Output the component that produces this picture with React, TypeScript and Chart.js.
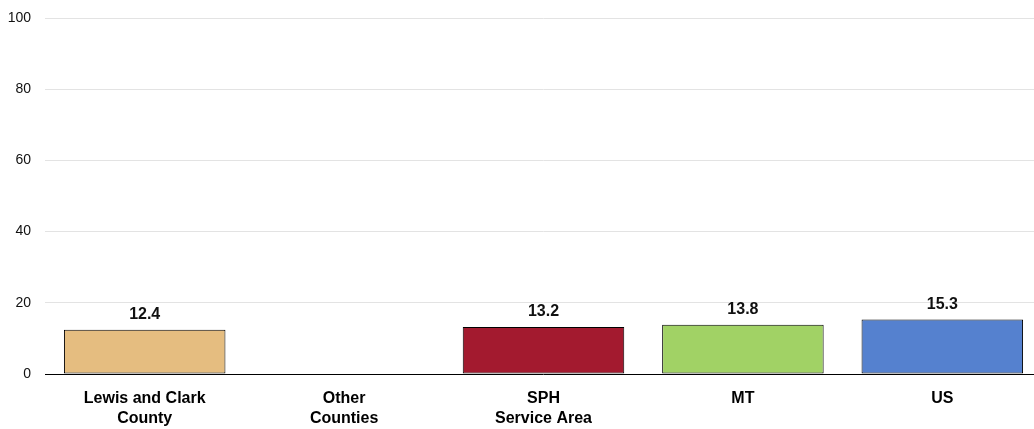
import React, { useEffect, useRef } from "react";
import { Chart, registerables } from "chart.js";

Chart.register(...registerables);

const categories: string[][] = [
  ["Lewis and Clark", "County"],
  ["Other", "Counties"],
  ["SPH", "Service Area"],
  ["MT"],
  ["US"],
];
const values: (number | null)[] = [12.4, null, 13.2, 13.8, 15.3];
const fullColors: string[] = ["#E5BD80", "#FFFFFF", "#A31A2F", "#A1D265", "#5581CF"];
const yTicks: number[] = [0, 20, 40, 60, 80, 100];

const FONT = "'Liberation Sans', Arial, sans-serif";

const valueLabelPlugin = {
  id: "valueLabels",
  afterDatasetsDraw(chart: any) {
    const ctx = chart.ctx;
    const meta = chart.getDatasetMeta(0);
    ctx.save();
    ctx.font = `bold 16px ${FONT}`;
    ctx.fillStyle = "#111";
    ctx.textAlign = "center";
    ctx.textBaseline = "bottom";
    meta.data.forEach((el: any, i: number) => {
      const v = values[i];
      if (v === null || v === undefined) return;
      ctx.fillText(v.toFixed(1), el.x, el.y - 7);
    });
    ctx.restore();
  },
};

export default function App() {
  const ref = useRef<HTMLCanvasElement | null>(null);
  useEffect(() => {
    if (!ref.current) return;
    const chart = new Chart(ref.current, {
      type: "bar",
      data: {
        labels: categories,
        datasets: [
          {
            data: values,
            backgroundColor: fullColors,
            borderColor: "#000",
            borderWidth: 1,
            borderSkipped: false,
            categoryPercentage: 0.81,
            barPercentage: 1,
          },
        ],
      },
      options: {
        animation: false,
        responsive: false,
        maintainAspectRatio: false,
        layout: { padding: { top: 10, right: 0, left: 0, bottom: 0 } },
        plugins: {
          legend: { display: false },
          tooltip: { enabled: false },
        },
        scales: {
          x: {
            afterFit: (s: any) => {
              s.paddingLeft = 0;
              s.paddingRight = 0;
            },
            grid: { display: false, drawTicks: false },
            border: { display: false },
            ticks: {
              color: "#000",
              padding: 15,
              font: { family: FONT, size: 16, weight: "bold", lineHeight: 1.25 },
              maxRotation: 0,
              autoSkip: false,
            },
          },
          y: {
            min: 0,
            max: 100,
            afterBuildTicks: (axis: any) => {
              axis.ticks = yTicks.map((v) => ({ value: v }));
            },
            afterFit: (s: any) => {
              s.width = 37;
              s.paddingTop = 10;
              s.paddingBottom = 0;
            },
            grid: {
              drawTicks: false,
              color: (c: any) => (c.tick && c.tick.value === 0 ? "#000" : "#e3e3e3"),
              lineWidth: 1,
            },
            border: { display: false },
            ticks: {
              color: "#111",
              padding: 14,
              font: { family: FONT, size: 14 },
            },
          },
        },
      },
      plugins: [valueLabelPlugin],
    });
    return () => chart.destroy();
  }, []);
  return (
    <div
      style={{
        position: "fixed",
        left: 0,
        top: 0,
        width: 1034,
        height: 429,
        overflow: "hidden",
        background: "#fff",
      }}
    >
      <canvas
        ref={ref}
        width={1034}
        height={436}
        style={{ display: "block", position: "absolute", left: 8, top: 8, width: 1034, height: 436 }}
      />
    </div>
  );
}
